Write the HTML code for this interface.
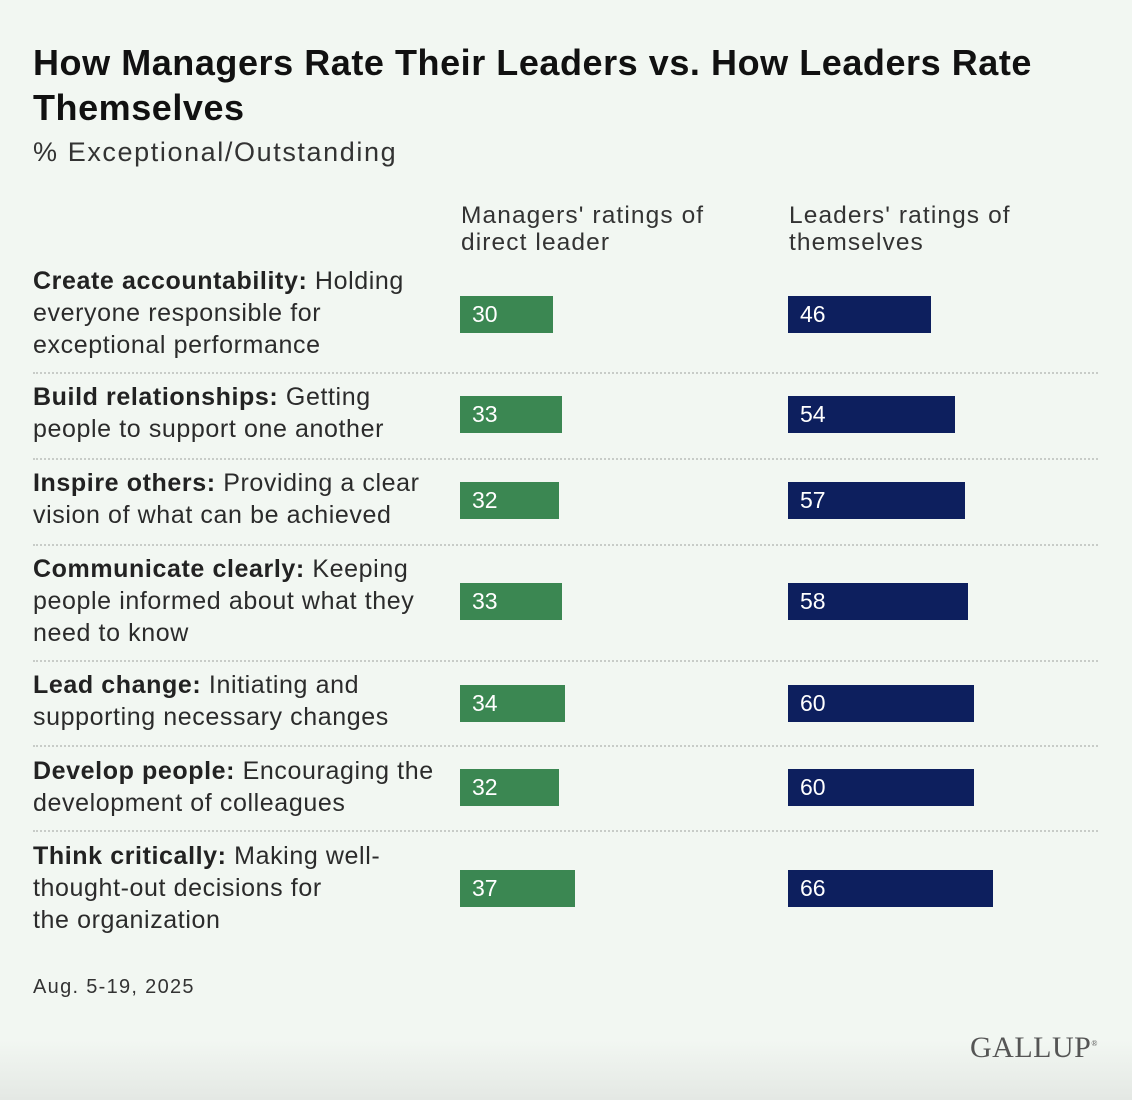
<!DOCTYPE html>
<html><head><meta charset="utf-8"><style>
body{margin:0;width:1132px;height:1100px;background:linear-gradient(#f2f7f2 0,#f2f7f2 1040px,#e4e8e4 1100px);font-family:"Liberation Sans",sans-serif;color:#262626;position:relative;overflow:hidden}
.a{position:absolute}
h1{position:absolute;left:33px;top:40px;margin:0;font-size:36px;line-height:45px;font-weight:bold;color:#111;width:1080px;letter-spacing:0.55px}
.lab{position:absolute;left:33px;width:430px;font-size:25px;line-height:32px;color:#2b2b2b;letter-spacing:0.6px}
.lab b{color:#222}
.bar{position:absolute;height:37px;color:#fff;font-size:23px;line-height:37px;padding-left:12px;box-sizing:border-box}
.sep{position:absolute;left:33px;width:1065px;border-top:2px dotted #c8ccc8}
</style></head><body>
<h1>How Managers Rate Their Leaders vs. How Leaders Rate Themselves</h1>
<div class="a" style="left:33px;top:137px;font-size:27px;color:#333;letter-spacing:1.6px">% Exceptional/Outstanding</div>
<div class="a" style="left:461px;top:202px;font-size:24.5px;line-height:27px;color:#333;letter-spacing:1.1px">Managers' ratings of<br>direct leader</div>
<div class="a" style="left:789px;top:202px;font-size:24.5px;line-height:27px;color:#333;letter-spacing:1.1px">Leaders' ratings of<br>themselves</div>
<div id="rows"></div>
<div class="a" style="left:33px;top:976px;font-size:20px;color:#333;letter-spacing:1.3px">Aug. 5-19, 2025</div>
<div class="a" style="left:970px;top:1031px;font-family:'Liberation Serif',serif;font-size:30px;color:#555;letter-spacing:0.5px">GALLUP<sup style="font-size:8px">®</sup></div>
<script>
const managers=[30,33,32,33,34,32,37];
const leaders=[46,54,57,58,60,60,66];
const rowTops=[265,381,467,553,669,755,840];
const barTops=[296,396,482,583,685,769,870];
const sepTops=[372,458,544,660,745,830];
const PX=3.1, X1=460, X2=788;
const root=document.getElementById('rows');
const htmlLabels=[
 "<b>Create accountability:</b> Holding<br>everyone responsible for<br>exceptional performance",
 "<b>Build relationships:</b> Getting<br>people to support one another",
 "<b>Inspire others:</b> Providing a clear<br>vision of what can be achieved",
 "<b>Communicate clearly:</b> Keeping<br>people informed about what they<br>need to know",
 "<b>Lead change:</b> Initiating and<br>supporting necessary changes",
 "<b>Develop people:</b> Encouraging the<br>development of colleagues",
 "<b>Think critically:</b> Making well-<br>thought-out decisions for<br>the organization"];
for(let i=0;i<managers.length;i++){
  const l=document.createElement('div');l.className='lab';l.style.top=rowTops[i]+'px';
  l.innerHTML=htmlLabels[i];
  
  
  root.appendChild(l);
  const b1=document.createElement('div');b1.className='bar';
  b1.style.cssText+=`left:${X1}px;top:${barTops[i]}px;width:${managers[i]*PX}px;background:#3b8752`;
  b1.textContent=managers[i];
  
  
  root.appendChild(b1);
  const b2=document.createElement('div');b2.className='bar';
  b2.style.cssText+=`left:${X2}px;top:${barTops[i]}px;width:${leaders[i]*PX}px;background:#0d1f5e`;
  b2.textContent=leaders[i];
  
  
  root.appendChild(b2);
}
sepTops.forEach(t=>{const s=document.createElement('div');s.className='sep';s.style.top=t+'px';


root.appendChild(s);});
</script>
</body></html>
